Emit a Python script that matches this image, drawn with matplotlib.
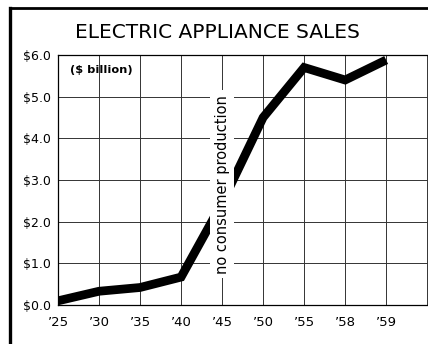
import numpy as np
import matplotlib
matplotlib.use("Agg")
import matplotlib.pyplot as plt
from matplotlib.lines import Line2D

# data ($ billion)
years = ["’25", "’30", "’35", "’40", "’45", "’50", "’55", "’58", "’59"]
sales = [0.1, 0.33, 0.42, 0.67, 2.45, 4.5, 5.7, 5.4, 5.88]
y_ticks = [0, 1, 2, 3, 4, 5, 6]
y_labels = ["$0.0", "$1.0", "$2.0", "$3.0", "$4.0", "$5.0", "$6.0"]

plt.rcParams['font.family'] = ['DejaVu Sans']

fig = plt.figure(figsize=(4.28, 3.44), dpi=100)
ax = fig.add_axes([58/428, 1 - 305/344, 1 - 58/428, 250/344])

x = np.arange(len(years))
ax.plot(x, sales, color='black', lw=6.3, solid_joinstyle='miter',
        solid_capstyle='butt', zorder=3)

ax.set_xlim(0, 9.02)
ax.set_ylim(0, 6)
ax.set_xticks(np.arange(10))
ax.set_xticklabels(years + [""], fontsize=9.5)
ax.set_yticks(y_ticks)
ax.set_yticklabels(y_labels, fontsize=9)
ax.tick_params(length=0)
ax.tick_params(axis='x', pad=8)
ax.tick_params(axis='y', pad=5)
ax.grid(True, color='#333333', lw=0.7)
for s in ['left', 'bottom', 'top']:
    ax.spines[s].set_linewidth(0.9)
ax.spines['right'].set_visible(False)

ax.text(0.3, 5.65, "($ billion)", fontsize=8.2, fontweight='bold', va='center')
ax.text(4, 2.9, "no consumer production", rotation=90, fontsize=10.5,
        ha='center', va='center', zorder=4,
        bbox=dict(facecolor='white', edgecolor='none', pad=3.5))

fig.text(217/428, 1 - 33/344, "ELECTRIC APPLIANCE SALES", fontsize=14.5,
         ha='center', va='center')

# outer frame of the original figure
fig.add_artist(Line2D([10/428, 10/428], [0, 1 - 8/344], color='black', lw=2.4,
                      transform=fig.transFigure, solid_capstyle='projecting'))
fig.add_artist(Line2D([10/428, 1], [1 - 8/344, 1 - 8/344], color='black', lw=2.0,
                      transform=fig.transFigure, solid_capstyle='projecting'))

fig.savefig("out.png", dpi=100)
